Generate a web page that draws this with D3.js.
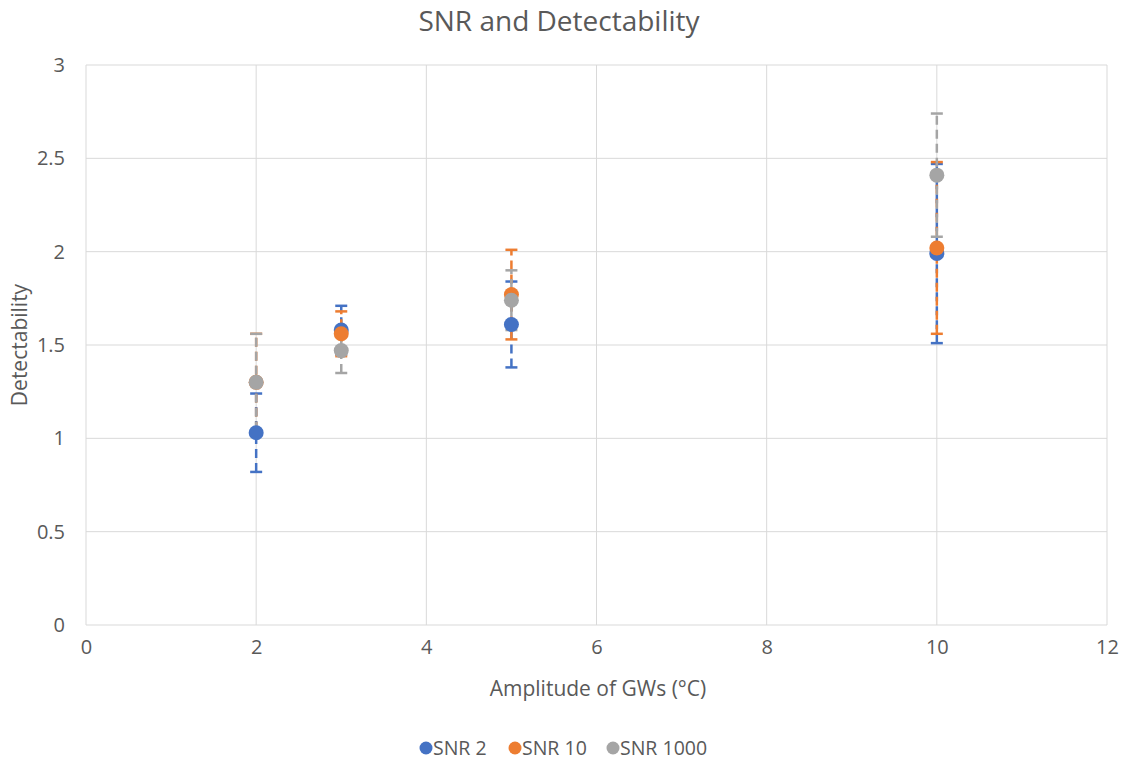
<!DOCTYPE html>
<html>
<head>
<meta charset="utf-8">
<script src="https://cdn.jsdelivr.net/npm/d3@7"></script>
<style>
  html, body { margin: 0; padding: 0; background: #fff; }
  svg { display: block; font-family: "Open Sans", Lato, sans-serif; }
</style>
</head>
<body>
<svg id="chart" width="1128" height="761"></svg>
<script>
// Amplitude of gravity waves (°C)
const amplitudes = [2, 3, 5, 10];

// Mean detectability per SNR level
const snr2 = [1.03, 1.58, 1.61, 1.99];
const snr10 = [1.30, 1.56, 1.77, 2.02];
const snr1000 = [1.30, 1.47, 1.74, 2.41];

// Symmetric error amounts (±) per SNR level
const snr2Err = [0.21, 0.13, 0.23, 0.48];
const snr10Err = [0.26, 0.12, 0.24, 0.46];
const snr1000Err = [0.26, 0.12, 0.16, 0.33];

const seriesNames = ["SNR 2", "SNR 10", "SNR 1000"];
const seriesColors = ["#4472C4", "#ED7D31", "#A5A5A5"];

const xTicks = [0, 2, 4, 6, 8, 10, 12];
const yTicks = [0, 0.5, 1, 1.5, 2, 2.5, 3];

const series = [
  { name: seriesNames[0], color: seriesColors[0], values: snr2, errs: snr2Err },
  { name: seriesNames[1], color: seriesColors[1], values: snr10, errs: snr10Err },
  { name: seriesNames[2], color: seriesColors[2], values: snr1000, errs: snr1000Err }
];

const svg = d3.select("#chart");
const margin = { left: 86, right: 21, top: 65, bottom: 136 };
const W = 1128, H = 761;

const x = d3.scaleLinear().domain([0, 12]).range([margin.left, W - margin.right]);
const y = d3.scaleLinear().domain([0, 3]).range([H - margin.bottom, margin.top]);

const textColor = "#595959";
const gridColor = "#D9D9D9";
const fontFamily = "'Open Sans', Lato, sans-serif";

// Gridlines
svg.append("g").selectAll("line").data(yTicks).join("line")
  .attr("x1", x(0)).attr("x2", x(12))
  .attr("y1", d => y(d)).attr("y2", d => y(d))
  .attr("stroke", gridColor).attr("stroke-width", 1);
svg.append("g").selectAll("line").data(xTicks).join("line")
  .attr("y1", y(0)).attr("y2", y(3))
  .attr("x1", d => x(d)).attr("x2", d => x(d))
  .attr("stroke", gridColor).attr("stroke-width", 1);

// Axes (labels only; the frame comes from the gridlines)
const xAxis = svg.append("g")
  .attr("transform", `translate(0,${y(0)})`)
  .call(d3.axisBottom(x).tickValues(xTicks).tickSize(0).tickPadding(15).tickFormat(d3.format("d")));
xAxis.select(".domain").remove();
xAxis.selectAll("text").attr("fill", textColor).style("font-size", "20px").style("font-family", fontFamily);

const yAxis = svg.append("g")
  .attr("transform", `translate(${x(0)},0)`)
  .call(d3.axisLeft(y).tickValues(yTicks).tickSize(0).tickPadding(21).tickFormat(d => String(d)));
yAxis.select(".domain").remove();
yAxis.selectAll("text").attr("fill", textColor).style("font-size", "20px").style("font-family", fontFamily);

// Error bars
const capHalf = 6;
series.forEach(s => {
  const g = svg.append("g");
  amplitudes.forEach((a, i) => {
    const v = s.values[i], e = s.errs[i];
    const cx = x(a);
    g.append("line")
      .attr("x1", cx).attr("x2", cx)
      .attr("y1", y(v - e)).attr("y2", y(v + e))
      .attr("stroke", s.color).attr("stroke-width", 2.5)
      .attr("stroke-dasharray", "9,5");
    [v - e, v + e].forEach(c => {
      g.append("line")
        .attr("x1", cx - capHalf).attr("x2", cx + capHalf)
        .attr("y1", y(c)).attr("y2", y(c))
        .attr("stroke", s.color).attr("stroke-width", 2.5);
    });
  });
});

// Markers
series.forEach(s => {
  svg.append("g").selectAll("circle").data(amplitudes).join("circle")
    .attr("cx", d => x(d))
    .attr("cy", (d, i) => y(s.values[i]))
    .attr("r", 7.5)
    .attr("fill", s.color);
});

// Title
svg.append("text")
  .attr("x", 559).attr("y", 31)
  .attr("text-anchor", "middle")
  .attr("fill", textColor)
  .style("font-size", "28px")
  .text("SNR and Detectability");

// Axis titles
svg.append("text")
  .attr("x", 598).attr("y", 696)
  .attr("text-anchor", "middle")
  .attr("fill", textColor)
  .style("font-size", "21px")
  .text("Amplitude of GWs (°C)");

svg.append("text")
  .attr("transform", `translate(27,${(y(0) + y(3)) / 2}) rotate(-90)`)
  .attr("text-anchor", "middle")
  .attr("fill", textColor)
  .style("font-size", "21px")
  .text("Detectability");

// Legend
const legendX = [426, 515, 613];
const legend = svg.append("g");
series.forEach((s, i) => {
  legend.append("circle")
    .attr("cx", legendX[i]).attr("cy", 748).attr("r", 6.5).attr("fill", s.color);
  legend.append("text")
    .attr("x", legendX[i] + 7).attr("y", 755)
    .attr("fill", textColor)
    .style("font-size", "19.5px")
    .text(s.name);
});
</script>
</body>
</html>
